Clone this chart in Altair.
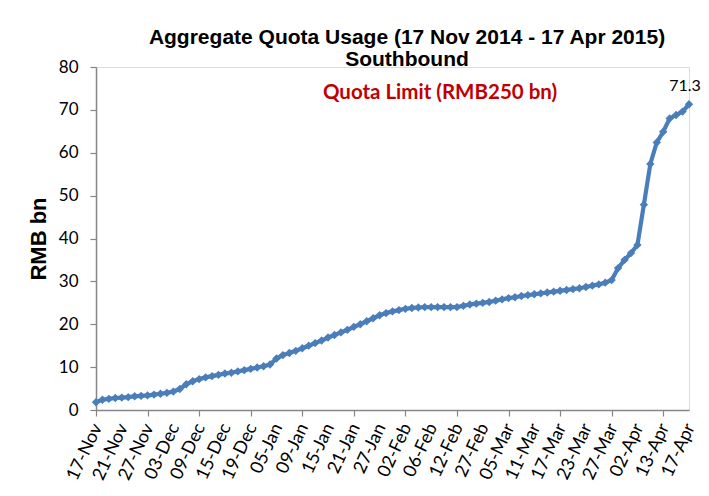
import altair as alt
import pandas as pd

dates = [
    "17-Nov", "18-Nov", "19-Nov", "20-Nov", "21-Nov", "24-Nov", "25-Nov", "26-Nov", "27-Nov", "28-Nov",
    "01-Dec", "02-Dec", "03-Dec", "04-Dec", "05-Dec", "08-Dec", "09-Dec", "10-Dec", "11-Dec", "12-Dec",
    "15-Dec", "16-Dec", "17-Dec", "18-Dec", "19-Dec", "22-Dec", "23-Dec", "30-Dec",
    "05-Jan", "06-Jan", "07-Jan", "08-Jan", "09-Jan", "12-Jan", "13-Jan", "14-Jan", "15-Jan", "16-Jan",
    "19-Jan", "20-Jan", "21-Jan", "22-Jan", "23-Jan", "26-Jan", "27-Jan", "28-Jan", "29-Jan", "30-Jan",
    "02-Feb", "03-Feb", "04-Feb", "05-Feb", "06-Feb", "09-Feb", "10-Feb", "11-Feb", "12-Feb", "13-Feb",
    "16-Feb", "26-Feb", "27-Feb",
    "02-Mar", "03-Mar", "04-Mar", "05-Mar", "06-Mar", "09-Mar", "10-Mar", "11-Mar", "12-Mar", "13-Mar",
    "16-Mar", "17-Mar", "18-Mar", "19-Mar", "20-Mar", "23-Mar", "24-Mar", "25-Mar", "26-Mar", "27-Mar",
    "30-Mar", "31-Mar",
    "01-Apr", "02-Apr", "08-Apr", "09-Apr", "10-Apr", "13-Apr", "14-Apr", "15-Apr", "16-Apr", "17-Apr",
]

usage = [
    1.8, 2.4, 2.6, 2.8, 2.9, 3.0, 3.2, 3.3, 3.4, 3.6,
    3.8, 4.0, 4.3, 4.9, 6.0, 6.7, 7.2, 7.6, 7.9, 8.2,
    8.5, 8.7, 9.0, 9.3, 9.6, 9.9, 10.2, 10.6,
    12.0, 12.8, 13.3, 13.8, 14.4, 15.0, 15.6, 16.2, 16.9, 17.5,
    18.1, 18.7, 19.4, 20.0, 20.7, 21.4, 22.1, 22.6, 23.0, 23.3,
    23.6, 23.8, 23.9, 24.0, 24.0, 24.0, 24.0, 24.0, 24.0, 24.3,
    24.6, 24.8, 25.0,
    25.2, 25.5, 25.8, 26.1, 26.3, 26.6, 26.8, 27.0, 27.2, 27.4,
    27.6, 27.8, 28.0, 28.2, 28.4, 28.7, 29.0, 29.3, 29.7, 30.3,
    33.1, 35.0,
    36.6, 38.5, 47.9, 57.4, 62.4, 64.9, 68.0, 68.8, 69.6, 71.3,
]

title_line1 = "Aggregate Quota Usage (17 Nov 2014 - 17 Apr 2015)"
title_line2 = "Southbound"
subtitle = "Quota Limit (RMB250 bn)"
y_title = "RMB bn"
last_label = "71.3"

df = pd.DataFrame({"idx": list(range(len(dates))), "date": dates, "value": usage})

W, H = 593, 343
BLUE = "#4A7EBB"
GRAY = "#868686"

x = alt.X(
    "idx:Q",
    scale=alt.Scale(domain=[0, len(dates) - 1], nice=False, zero=False),
    axis=alt.Axis(
        values=list(range(0, len(dates), 2)),
        labels=False,
        tickSize=6,
        tickColor=GRAY,
        domainColor=GRAY,
        domainWidth=1.5,
        tickWidth=1.2,
        grid=False,
        title=None,
    ),
)
y = alt.Y(
    "value:Q",
    scale=alt.Scale(domain=[0, 80], nice=False),
    axis=alt.Axis(
        values=list(range(0, 81, 5)),
        labelFont="Lato",
        labelFontSize=17,
        labelColor="#000000",
        labelPadding=12,
        tickSize=6,
        tickColor=GRAY,
        domainColor=GRAY,
        domainWidth=1.5,
        tickWidth=1.2,
        grid=False,
        title=y_title,
        titleFont="Liberation Sans",
        titleFontSize=22,
        titleFontWeight="bold",
        titleColor="#000000",
        titlePadding=8,
    ),
)

base = alt.Chart(df)

line = base.mark_line(
    color=BLUE,
    strokeWidth=4.2,
    point=alt.OverlayMarkDef(shape="diamond", size=70, color=BLUE, filled=True),
).encode(x=x, y=y)

xlabels = base.transform_filter("datum.idx % 4 == 0").mark_text(
    font="Lato", fontSize=18, color="#000000", angle=295,
    align="right", baseline="middle", dy=2,
).encode(x="idx:Q", y=alt.value(H + 14), text="date:N")

last = base.transform_filter(f"datum.idx == {len(dates) - 1}").mark_text(
    font="Lato", fontSize=16, color="#000000", dy=-18, dx=-4, align="center"
).encode(x="idx:Q", y="value:Q", text=alt.value(last_label))


def text_layer(txt, px, py, **kw):
    return alt.Chart(pd.DataFrame({"t": [txt]})).mark_text(**kw).encode(
        x=alt.value(px), y=alt.value(py), text="t:N"
    )


t1 = text_layer(title_line1, 311, -23, font="Liberation Sans", fontSize=21,
                fontWeight="bold", color="#000000", align="center", baseline="alphabetic")
t2 = text_layer(title_line2, 311, -1, font="Liberation Sans", fontSize=21,
                fontWeight="bold", color="#000000", align="center", baseline="alphabetic")
t3 = text_layer(subtitle, 344, 32, font="Lato", fontSize=20.5,
                fontWeight="bold", color="#C00000", align="center", baseline="alphabetic")

chart = alt.layer(line, xlabels, last, t1, t2, t3).properties(
    width=W, height=H,
    autosize=alt.AutoSizeParams(type="none"),
    padding={"left": 88, "top": 59, "right": 12, "bottom": 78},
).configure_view(stroke=None).configure(background="white")

chart.save("out.html", embed_options={"renderer": "svg", "actions": False})
